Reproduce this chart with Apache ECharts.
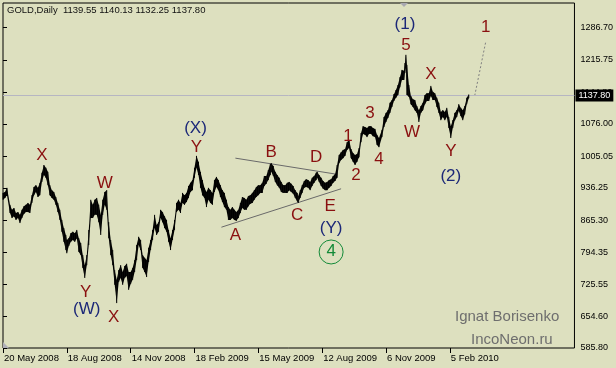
<!DOCTYPE html>
<html><head><meta charset="utf-8">
<script src="https://cdn.jsdelivr.net/npm/echarts@6/dist/echarts.min.js"></script>
<style>html,body{margin:0;padding:0;background:#dde0bf}#c{width:616px;height:368px}</style>
</head><body><div id="c"></div><script>
// ---------- data ----------
const symbolName = 'GOLD,Daily';
const lastOHLC = [1139.55, 1140.13, 1132.25, 1137.80];
const xTickLabels = ['20 May 2008','18 Aug 2008','14 Nov 2008','18 Feb 2009','15 May 2009','12 Aug 2009','6 Nov 2009','5 Feb 2010'];
const xTickDays = [0,64,128,192,256,320,384,448];
const yTickLabels = ['585.80','654.60','725.55','794.35','865.30','936.25','1005.05','1076.00','1144.80','1215.75','1286.70'];

// bar index (trading day) and high / low
const days = [
0,2,4,7,9,11,13,15,17,19,
21,23,25,27,29,31,33,35,37,39,
41,43,45,47,49,51,53,55,57,59,
61,63,64,66,68,70,72,74,76,78,
80,82,84,86,88,90,92,94,96,98,
100,102,104,106,108,110,112,114,116,118,
120,122,124,126,128,130,132,134,136,138,
140,142,144,146,148,150,152,154,156,158,
160,162,164,166,168,170,172,174,176,178,
180,182,184,186,188,190,192,194,196,198,
200,202,204,206,208,210,212,214,216,218,
220,222,224,226,228,230,232,234,236,238,
240,242,244,246,248,250,252,254,256,258,
260,262,264,266,268,269,271,273,275,277,
279,281,283,285,287,289,291,293,295,296,
298,300,302,304,306,308,310,312,314,315,
317,319,321,323,325,327,329,331,333,335,
337,339,341,343,345,347,349,351,353,355,
357,359,361,363,365,367,369,371,373,375,
377,380,382,384,386,388,390,392,394,396,
398,400,402,403,404,405,407,409,411,413,
415,417,419,421,423,425,427,429,431,433,
435,437,439,441,443,445,447,449,451,453,
455,457,459,461,463,465,467];
const highs = [
925,927,936,899,888,892,881,883,877,888,
896,899,903,899,920,938,942,936,947,969,
986,980,971,942,931,927,916,903,888,866,
848,833,822,826,837,840,837,844,826,815,
789,767,789,844,910,899,910,914,899,877,
910,927,931,861,822,800,756,735,756,767,
752,765,770,752,752,761,778,811,829,822,
789,783,778,805,822,844,877,855,861,888,
883,874,866,844,826,844,866,903,910,903,
925,920,925,940,947,953,980,1006,993,971,
953,936,927,936,931,925,953,960,953,942,
931,925,910,894,888,894,888,883,888,903,
916,914,910,918,920,925,931,938,942,942,
947,962,962,975,988,990,984,971,964,958,
949,942,942,947,949,945,940,931,925,918,
931,942,951,955,953,949,958,962,969,971,
964,958,951,947,949,953,955,962,966,986,
1008,1014,1019,1021,1036,1041,1021,1012,1008,1010,
1023,1056,1071,1069,1067,1071,1071,1067,1065,1052,
1045,1063,1091,1100,1106,1122,1128,1141,1150,1161,
1178,1194,1192,1209,1227,1205,1161,1137,1130,1128,
1115,1106,1115,1122,1139,1143,1143,1159,1146,1143,
1133,1122,1102,1106,1102,1111,1091,1071,1084,1100,
1106,1119,1111,1106,1115,1133,1140.13];
const lows = [
910,914,920,881,870,874,866,870,859,870,
879,883,883,881,903,920,927,916,920,949,
964,958,942,920,914,910,899,883,866,840,
818,800,793,809,818,822,818,826,796,789,
761,739,767,811,870,870,877,877,861,833,
877,899,888,826,789,767,724,684,730,739,
724,739,743,713,726,735,752,778,811,800,
761,752,741,774,800,822,848,833,840,870,
861,848,840,818,800,822,844,883,888,881,
903,899,905,914,927,931,958,980,964,936,
920,914,894,910,903,899,927,938,931,916,
905,894,888,866,866,870,866,864,870,881,
892,888,888,896,901,903,910,916,920,925,
925,940,945,953,964,971,962,949,942,936,
927,925,925,925,931,927,923,914,907,903,
914,925,936,938,936,931,940,947,953,958,
949,940,934,931,931,936,940,947,951,958,
990,997,1001,1006,1019,1023,1001,993,986,993,
1003,1036,1054,1052,1047,1054,1054,1049,1047,1030,
1025,1047,1069,1080,1089,1100,1113,1126,1133,1139,
1156,1172,1172,1187,1198,1139,1135,1119,1113,1106,
1100,1080,1100,1106,1119,1126,1126,1137,1128,1128,
1113,1100,1084,1091,1084,1091,1067,1045,1067,1084,
1091,1104,1093,1084,1097,1119,1132.25];

// Elliott wave annotations
const waveText   = ['X','Y','(W)','X','W','(X)','Y','A','B','C','D','E','(Y)','4','1','2','3','4','(1)','5','X','W','Y','(2)','1'];
const waveDegree = ['minor','minor','inter','minor','minor','inter','minor','minor','minor','minor','minor','minor','inter','circle','minor','minor','minor','minor','inter','minor','minor','minor','minor','inter','minor'];
const waveDay    = [39,83,84,111,102,193,194,233,269,295,314,328,329,329,346,354,368,377,403,404,429,410,449,449,484];
const wavePrice  = [1008,708,671,654,947,1067,1025,833,1014,877,1003,896,848,798,1049,964,1098,999,1294,1248,1185,1058,1017,962,1288];

const triangleUpper = [[233,1001],[334,966]];
const triangleLower = [[219,850],[339,934]];
const projection = [[473,1137.8],[484,1255]];

// ---------- chart ----------
const FONT = 'Liberation Sans, Arial, sans-serif';
const degreeColor = {minor:'#8a1010', inter:'#1c2878', circle:'#138a38'};
const yTickValues = yTickLabels.map(Number);

const priceRows = days.map((d,i)=>{
  const j = Math.min(i+1, days.length-1);
  return [d, highs[i], lows[i], days[j], highs[j], lows[j]];
});
const waveRows = waveText.map((t,i)=>[waveDay[i], wavePrice[i], i]);

const chart = echarts.init(document.getElementById('c'));
chart.setOption({
  animation:false,
  backgroundColor:'#dde0bf',
  title:{
    text: symbolName + '  ' + lastOHLC.map(v=>v.toFixed(2)).join(' '),
    left:5, top:4, padding:[1,2],
    textStyle:{fontSize:9.5, fontWeight:'normal', color:'#111', fontFamily:FONT}
  },
  grid:{left:3, top:3, width:573, height:345, show:true, borderColor:'#000', borderWidth:1, backgroundColor:'transparent'},
  xAxis:{
    type:'value', min:0, max:573,
    axisLine:{show:false}, splitLine:{show:false},
    axisTick:{show:true, customValues:xTickDays, length:5, lineStyle:{color:'#000'}},
    axisLabel:{customValues:xTickDays, formatter:v=>xTickLabels[xTickDays.indexOf(v)] || '',
      align:'left', margin:5, fontSize:9.5, color:'#000', fontFamily:FONT, padding:[0,0,0,1]}
  },
  yAxis:{
    type:'value', position:'right', min:585.8, max:1340.3,
    axisLine:{show:false}, splitLine:{show:false},
    axisTick:{show:true, customValues:yTickValues, length:4, lineStyle:{color:'#000'}},
    axisLabel:{customValues:yTickValues, formatter:v=>{const k=yTickValues.indexOf(v);return k>=0?yTickLabels[k]:v.toFixed(2);},
      margin:6, fontSize:9, color:'#000', fontFamily:FONT}
  },
  series:[
    {
      type:'line', z:1, data:[[0,lastOHLC[3]]], showSymbol:false, lineStyle:{opacity:0},
      markLine:{
        silent:true, symbol:['none','none'],
        lineStyle:{color:'#b6b6c2', width:1, type:'solid'},
        label:{show:true, position:'end', distance:1, formatter:lastOHLC[3].toFixed(2),
          backgroundColor:'#000', color:'#fff', fontSize:9, fontFamily:FONT, padding:[2,3,1,3]},
        data:[{yAxis:lastOHLC[3]}]
      }
    },
    {
      type:'custom', z:5, data:priceRows,
      encode:{x:[0,3], y:[1,2,4,5]},
      renderItem:(params, api)=>{
        const a = api.coord([api.value(0), api.value(1)]);
        const b = api.coord([api.value(3), api.value(4)]);
        const c = api.coord([api.value(3), api.value(5)]);
        const d = api.coord([api.value(0), api.value(2)]);
        return {type:'group', children:[
          {type:'polygon', shape:{points:[a,b,c,d]}, style:{fill:'#000'}},
          {type:'line', shape:{x1:a[0], y1:a[1], x2:d[0], y2:d[1]}, style:{stroke:'#000', lineWidth:1}}
        ]};
      }
    },
    {type:'line', z:4, data:triangleUpper, showSymbol:false, symbol:'none', lineStyle:{color:'#6a6a6a', width:1}},
    {type:'line', z:4, data:triangleLower, showSymbol:false, symbol:'none', lineStyle:{color:'#6a6a6a', width:1}},
    {type:'line', z:4, data:projection, showSymbol:false, symbol:'none', lineStyle:{color:'#808080', width:1, type:[2,2]}},
    {
      type:'custom', z:6, data:waveRows, encode:{x:0, y:1},
      renderItem:(params, api)=>{
        const p = api.coord([api.value(0), api.value(1)]);
        const k = api.value(2);
        const deg = waveDegree[k];
        const col = degreeColor[deg];
        const txt = {type:'text', x:p[0], y:p[1], style:{text:waveText[k], fill:col,
          font:'17px '+FONT, textAlign:'center', textVerticalAlign:'middle'}};
        if (deg === 'circle') {
          return {type:'group', children:[
            {type:'circle', shape:{cx:p[0], cy:p[1]+1, r:12}, style:{fill:'none', stroke:col, lineWidth:1}},
            txt
          ]};
        }
        return txt;
      }
    }
  ],
  graphic:[
    {type:'text', left:455, top:309, style:{text:'Ignat Borisenko', fill:'#6e6e6e', font:'15px '+FONT}},
    {type:'text', left:471, top:332, style:{text:'IncoNeon.ru', fill:'#6e6e6e', font:'15px '+FONT}},
    {type:'polygon', shape:{points:[[400,3],[408,3],[404,7]]}, style:{fill:'#a8a8b0'}},
    {type:'polygon', shape:{points:[[3,342],[3,348],[9,348]]}, style:{fill:'#b0b0b8'}}
  ]
});
</script></body></html>
